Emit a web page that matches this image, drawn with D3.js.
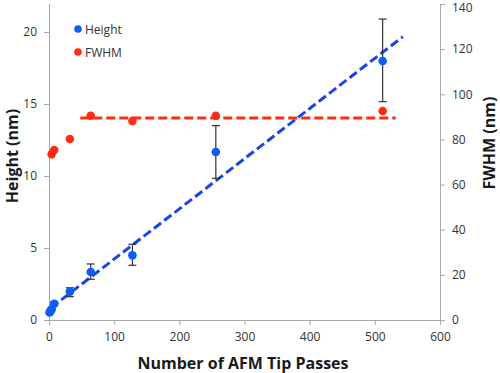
<!DOCTYPE html>
<html>
<head>
<meta charset="utf-8">
<script src="https://cdn.jsdelivr.net/npm/d3@7"></script>
<style>
  body { margin: 0; background: #fff; }
  svg text { font-family: "Open Sans", sans-serif; }
</style>
</head>
<body>
<div id="canvas"></div>
<script>
// data
const heightPasses = [1, 2, 4, 8, 32, 64, 128, 256, 512];
const heightValues = [0.52, 0.6, 0.74, 1.13, 1.97, 3.33, 4.49, 11.67, 17.99];
const heightErrLow = [0.45, 0.5, 0.65, 1.0, 1.62, 2.83, 3.8, 9.84, 15.16];
const heightErrHigh = [0.6, 0.7, 0.85, 1.25, 2.24, 3.89, 5.26, 13.5, 20.9];

const fwhmPasses = [4, 8, 32, 64, 128, 256, 512];
const fwhmValues = [73.4, 75.3, 80.2, 90.5, 88.2, 90.5, 92.6];

const heightFitX = [3, 543];
const heightFitY = [0.85, 19.67];
const fwhmFitX = [48, 532];
const fwhmFitY = [89.5, 89.5];

const xTicks = [0, 100, 200, 300, 400, 500, 600];
const leftTicks = [0, 5, 10, 15, 20];
const rightTicks = [0, 20, 40, 60, 80, 100, 120, 140];

const width = 500;
const height = 373;
const blue = "#0d5cf5";
const blueLine = "#1a46e0";
const red = "#ff2b14";
const axisGrey = "#a8a8a8";

const svg = d3.select("#canvas").append("svg")
    .attr("width", width)
    .attr("height", height);

const x = d3.scaleLinear().domain([0, 600]).range([49, 440]);
const yL = d3.scaleLinear().domain([0, 22]).range([320, 3.2]);
const yR = d3.scaleLinear().domain([0, 140]).range([320, 4]);

function styleAxis(g) {
    g.selectAll("path, line").attr("stroke", axisGrey);
    g.selectAll("text")
        .style("font-size", "12px")
        .attr("fill", "#333");
}

svg.append("g")
    .attr("transform", "translate(0,320)")
    .call(d3.axisBottom(x).tickValues(xTicks).tickSize(5).tickPadding(7).tickSizeOuter(0))
    .call(styleAxis);

svg.append("g")
    .attr("transform", "translate(49,0)")
    .call(d3.axisLeft(yL).tickValues(leftTicks).tickSize(5).tickPadding(7).tickSizeOuter(0))
    .call(styleAxis);

const rightAxis = svg.append("g")
    .attr("transform", "translate(440,0)")
    .call(d3.axisRight(yR).tickValues(rightTicks).tickSize(5).tickPadding(7).tickSizeOuter(0))
    .call(styleAxis);
// keep the top label inside the picture
rightAxis.selectAll(".tick text")
    .filter(d => d === 140)
    .attr("y", 4);

// fit lines
const heightFit = heightFitX.map((d, i) => [d, heightFitY[i]]);
const fwhmFit = fwhmFitX.map((d, i) => [d, fwhmFitY[i]]);

svg.append("path")
    .datum(fwhmFit)
    .attr("d", d3.line().x(d => x(d[0])).y(d => yR(d[1])))
    .attr("stroke", red)
    .attr("stroke-width", 3)
    .attr("stroke-dasharray", "9,4")
    .attr("fill", "none");

svg.append("path")
    .datum(heightFit)
    .attr("d", d3.line().x(d => x(d[0])).y(d => yL(d[1])))
    .attr("stroke", blueLine)
    .attr("stroke-width", 3)
    .attr("stroke-dasharray", "9,4")
    .attr("fill", "none");

// fwhm points
svg.append("g")
    .selectAll("circle")
    .data(fwhmPasses)
    .enter()
    .append("circle")
    .attr("cx", d => x(d))
    .attr("cy", (d, i) => yR(fwhmValues[i]))
    .attr("r", 4.3)
    .attr("fill", red);

// height error bars
const err = svg.append("g")
    .selectAll("g")
    .data(heightPasses)
    .enter()
    .append("g")
    .attr("stroke", "#333")
    .attr("stroke-width", 1.2);

err.append("line")
    .attr("x1", d => x(d)).attr("x2", d => x(d))
    .attr("y1", (d, i) => yL(heightErrLow[i]))
    .attr("y2", (d, i) => yL(heightErrHigh[i]));
err.append("line")
    .attr("x1", d => x(d) - 4).attr("x2", d => x(d) + 4)
    .attr("y1", (d, i) => yL(heightErrLow[i]))
    .attr("y2", (d, i) => yL(heightErrLow[i]));
err.append("line")
    .attr("x1", d => x(d) - 4).attr("x2", d => x(d) + 4)
    .attr("y1", (d, i) => yL(heightErrHigh[i]))
    .attr("y2", (d, i) => yL(heightErrHigh[i]));

svg.append("g")
    .selectAll("circle")
    .data(heightPasses)
    .enter()
    .append("circle")
    .attr("cx", d => x(d))
    .attr("cy", (d, i) => yL(heightValues[i]))
    .attr("r", 4.3)
    .attr("fill", blue);

// legend
const legend = [["Height", blue], ["FWHM", red]];
const lg = svg.append("g")
    .selectAll("g")
    .data(legend)
    .enter()
    .append("g")
    .attr("transform", (d, i) => `translate(78,${29 + i * 23})`);
lg.append("circle").attr("r", 3.8).attr("fill", d => d[1]);
lg.append("text")
    .attr("x", 7)
    .attr("y", 4.5)
    .style("font-size", "12px")
    .attr("fill", "#333")
    .text(d => d[0]);

// axis titles
svg.append("text")
    .attr("x", 243)
    .attr("y", 369)
    .attr("text-anchor", "middle")
    .style("font-size", "16px")
    .style("font-weight", "bold")
    .attr("fill", "#1a1a1a")
    .text("Number of AFM Tip Passes");

svg.append("text")
    .attr("transform", "translate(18,156) rotate(-90)")
    .attr("text-anchor", "middle")
    .style("font-size", "16px")
    .style("font-weight", "bold")
    .attr("fill", "#1a1a1a")
    .text("Height (nm)");

svg.append("text")
    .attr("transform", "translate(495,143) rotate(-90)")
    .attr("text-anchor", "middle")
    .style("font-size", "16px")
    .style("font-weight", "bold")
    .attr("fill", "#1a1a1a")
    .text("FWHM (nm)");
</script>
</body>
</html>
